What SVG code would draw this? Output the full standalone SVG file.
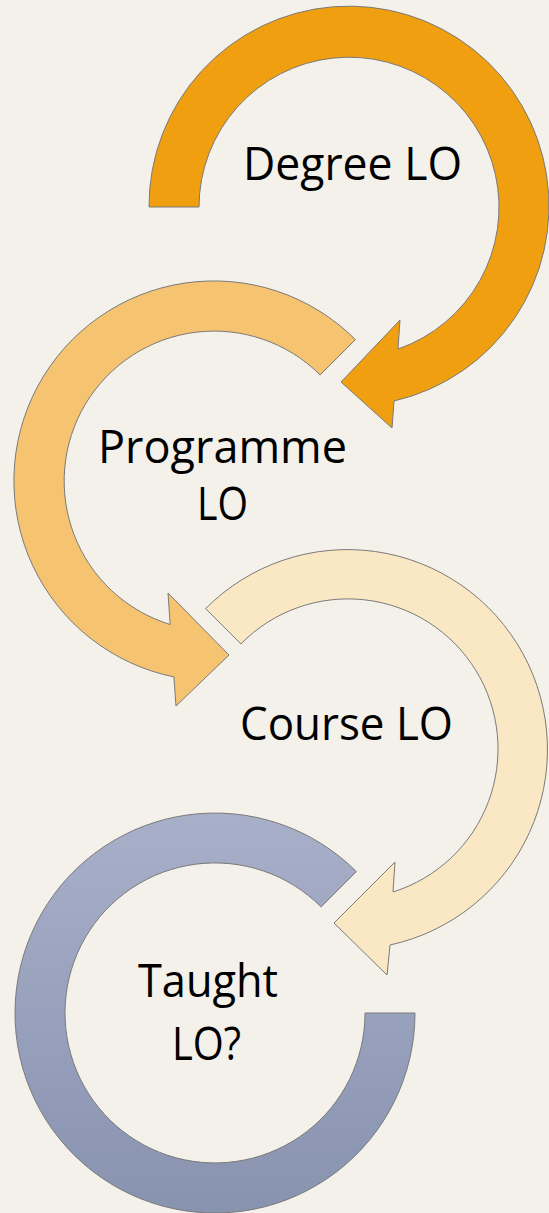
<svg xmlns="http://www.w3.org/2000/svg" width="549" height="1213" viewBox="0 0 549 1213">
  <defs>
    <linearGradient id="blueGrad" x1="0" y1="0" x2="0" y2="1">
      <stop offset="0" stop-color="#a8afc9"/>
      <stop offset="1" stop-color="#8893b0"/>
    </linearGradient>
    <style>
      .arrow { stroke: #7a7a7a; stroke-width: 1; stroke-linejoin: miter; }
      .lbl { font-family: "Open Sans", "Liberation Sans", sans-serif; font-size: 45px; fill: #000000; }
    </style>
  </defs>
  <rect x="0" y="0" width="549" height="1213" fill="#f3f1ea"/>

  <g id="node-taught">
    <path class="arrow" fill="url(#blueGrad)" d="M356.4,871.6 A200,200 0 1 0 415,1013 L365,1013 A150,150 0 1 1 321.1,906.9 Z"/>
    <text class="lbl" x="138" y="997" textLength="140" lengthAdjust="spacingAndGlyphs">Taught</text>
    <text class="lbl" x="172" y="1060" textLength="69" lengthAdjust="spacingAndGlyphs">LO?</text>
  </g>

  <g id="node-course">
    <path class="arrow" fill="#fae7c4" d="M205.6,608.6 A200,200 0 1 1 390,945 L387,975 L334,923 L395,862 L393,892 A150,150 0 1 0 240.9,643.9 Z"/>
    <text class="lbl" x="240" y="740" textLength="213" lengthAdjust="spacingAndGlyphs">Course LO</text>
  </g>

  <g id="node-programme">
    <path class="arrow" fill="#f6c470" d="M355.4,339.6 A200,200 0 1 0 173.9,676.9 L176,706 L229,655 L168,593 L170.2,624.5 A150,150 0 1 1 320.1,374.9 Z"/>
    <text class="lbl" x="98" y="463" textLength="249" lengthAdjust="spacingAndGlyphs">Programme</text>
    <text class="lbl" x="197" y="520" textLength="51" lengthAdjust="spacingAndGlyphs">LO</text>
  </g>

  <g id="node-degree">
    <path class="arrow" fill="#ef9f0f" d="M149,207 A200,200 0 1 1 394,401 L392,428 L341,382 L400,320 L398,349 A150,150 0 1 0 199,207 Z"/>
    <text class="lbl" x="243" y="180" textLength="219" lengthAdjust="spacingAndGlyphs">Degree LO</text>
  </g>

  <g id="connectors"/>
</svg>
